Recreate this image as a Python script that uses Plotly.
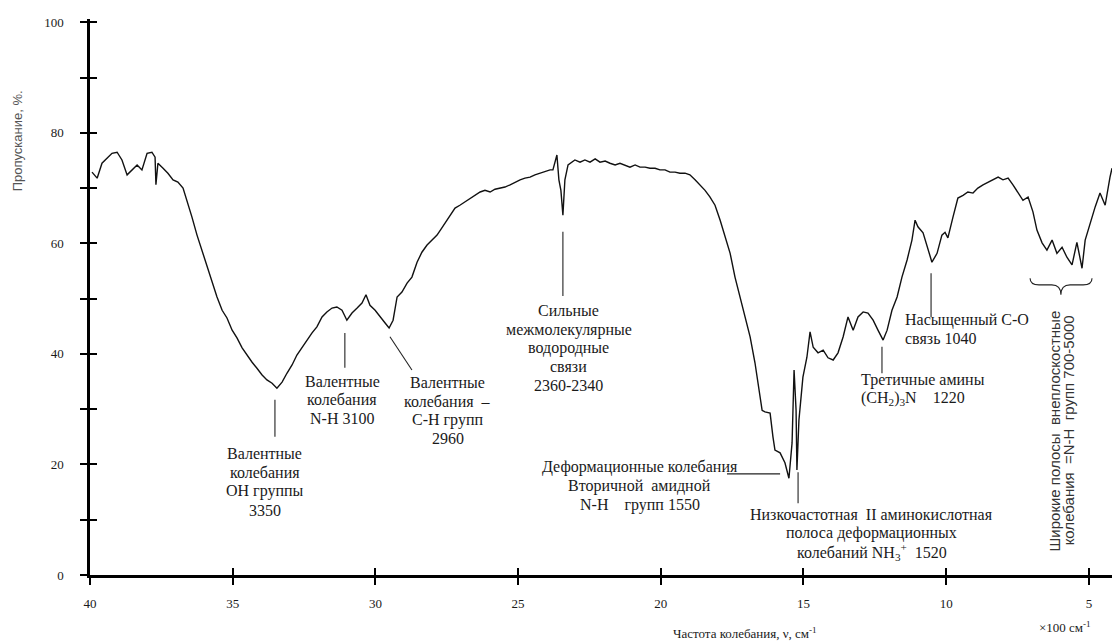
import plotly.graph_objects as go

# ---- spectrum data (wavenumber, cm^-1 ; transmittance, %) ----
wavenumber = [3993, 3975, 3958, 3940, 3923, 3905, 3888, 3870, 3853, 3835, 3818, 3800, 3783, 3772, 3769, 3762,
              3744, 3727, 3709, 3692, 3674, 3660, 3643, 3625, 3608, 3590, 3573, 3555, 3537, 3520, 3502, 3485,
              3467, 3450, 3432, 3415, 3397, 3380, 3362, 3345, 3327, 3310, 3292, 3275, 3257, 3240, 3222, 3205,
              3187, 3170, 3152, 3135, 3117, 3100, 3082, 3064, 3047, 3033, 3019, 3001, 2984, 2966, 2952, 2938,
              2924, 2907, 2889, 2872, 2854, 2837, 2819, 2802, 2784, 2767, 2749, 2732, 2721, 2704, 2686, 2668,
              2651, 2633, 2616, 2598, 2581, 2563, 2546, 2528, 2511, 2493, 2476, 2458, 2441, 2423, 2406, 2388,
              2378, 2364, 2357, 2350, 2343, 2336, 2325, 2311, 2301, 2283, 2266, 2248, 2230, 2213, 2195, 2178,
              2160, 2143, 2125, 2108, 2090, 2073, 2055, 2038, 2020, 2003, 1985, 1968, 1950, 1933, 1915, 1898,
              1880, 1863, 1845, 1828, 1810, 1792, 1775, 1757, 1740, 1722, 1705, 1687, 1670, 1656, 1645, 1635,
              1617, 1607, 1600, 1582, 1565, 1551, 1540, 1533, 1526, 1523, 1516, 1502, 1488, 1477, 1466, 1449,
              1431, 1414, 1396, 1379, 1361, 1344, 1326, 1309, 1291, 1274, 1256, 1239, 1221, 1207, 1190, 1172,
              1155, 1137, 1120, 1109, 1099, 1081, 1064, 1050, 1032, 1015, 1004, 994, 976, 959, 941, 924,
              906, 889, 871, 853, 836, 818, 801, 783, 766, 748, 731, 713, 696, 682, 664, 647,
              629, 612, 594, 577, 559, 542, 524, 513, 496, 478, 461, 443, 426, 419]
transmittance = [72.9, 71.8, 74.5, 75.4, 76.3, 76.5, 75.1, 72.4, 73.3, 74.2, 73.3, 76.3, 76.5, 75.6, 70.6, 74.5,
                 73.6, 72.7, 71.5, 71.1, 70.0, 67.8, 64.8, 61.5, 58.8, 55.7, 53.4, 50.3, 47.9, 46.5, 44.3, 42.9,
                 41.1, 39.8, 38.5, 37.4, 36.2, 35.3, 34.7, 33.8, 34.9, 36.5, 38.0, 39.8, 41.2, 42.5, 43.8, 44.9,
                 46.7, 47.6, 48.3, 48.5, 47.9, 46.1, 47.4, 48.3, 49.2, 50.7, 48.8, 47.9, 46.7, 45.6, 44.7, 46.1,
                 50.3, 51.2, 52.8, 53.9, 56.6, 58.4, 59.7, 60.6, 61.5, 62.8, 64.2, 65.5, 66.4, 66.9, 67.5, 68.2,
                 68.7, 69.3, 69.6, 69.3, 69.8, 70.0, 70.2, 70.6, 71.1, 71.5, 71.8, 72.0, 72.4, 72.7, 72.9, 73.3,
                 73.3, 76.0, 71.5, 69.6, 65.1, 71.5, 74.2, 74.7, 75.1, 74.7, 75.1, 74.7, 75.3, 74.7, 74.9, 74.5,
                 74.2, 74.5, 74.2, 73.8, 74.2, 73.8, 73.8, 73.6, 73.6, 73.3, 73.3, 72.9, 72.9, 72.7, 72.7, 72.4,
                 71.5, 70.6, 69.6, 68.4, 66.9, 64.2, 61.1, 58.2, 53.9, 50.3, 46.7, 43.1, 38.4, 34.0, 29.8, 29.5,
                 29.3, 25.0, 22.6, 22.1, 20.3, 17.5, 23.9, 37.1, 29.8, 19.0, 28.0, 35.8, 39.4, 44.0, 41.2, 40.2,
                 40.7, 39.3, 38.9, 40.2, 43.1, 46.7, 44.3, 46.7, 47.6, 47.4, 46.1, 44.3, 42.5, 44.3, 47.9, 50.3,
                 53.9, 57.0, 60.6, 64.2, 63.0, 61.9, 58.8, 56.6, 58.2, 61.5, 62.0, 61.0, 64.8, 68.2, 68.7, 69.3,
                 69.1, 70.0, 70.6, 71.1, 71.5, 72.0, 71.5, 71.8, 70.6, 69.1, 67.8, 68.4, 65.7, 62.4, 60.1, 58.8,
                 60.6, 58.2, 59.3, 57.5, 56.1, 60.2, 55.5, 60.6, 63.7, 66.6, 69.1, 66.9, 72.0, 73.6]

x_ticks = [40, 35, 30, 25, 20, 15, 10, 5]
y_ticks = [0, 20, 40, 60, 80, 100]
y_minor_step = 10

x_vals = [w / 100 for w in wavenumber]

SERIF = "Liberation Serif"
TXT = "#1a1a1a"

fig = go.Figure()
fig.add_trace(go.Scatter(x=x_vals, y=transmittance, mode="lines",
                         line=dict(color="#111111", width=1.4), showlegend=False, hoverinfo="skip"))
# helper trace for the overlaid axes (inside ticks -> crossing ticks)
fig.add_trace(go.Scatter(x=[None], y=[None], xaxis="x2", yaxis="y2", showlegend=False, hoverinfo="skip"))

XR = [40, 4.19]
YR = [0, 100.6]

fig.update_layout(
    width=1112, height=644, autosize=False,
    margin=dict(l=90, r=0, t=19, b=69),
    paper_bgcolor="white", plot_bgcolor="white",
    xaxis=dict(range=XR, tickvals=x_ticks, ticks="outside", ticklen=7, tickwidth=2, tickcolor="black",
               showline=True, linewidth=2.5, linecolor="black", showgrid=False, zeroline=False,
               tickfont=dict(family=SERIF, size=13, color=TXT), ticklabelstandoff=8),
    yaxis=dict(range=YR, tickvals=y_ticks, ticks="outside", ticklen=7, tickwidth=2,
               tickcolor="black", showline=True, linewidth=2.5, linecolor="black", showgrid=False,
               zeroline=False, tickfont=dict(family=SERIF, size=13, color=TXT), ticklabelstandoff=14,
               minor=dict(tick0=0, dtick=y_minor_step, ticks="outside", ticklen=7, tickwidth=2,
                          tickcolor="black", showgrid=False)),
    xaxis2=dict(range=XR, overlaying="x", tickvals=x_ticks, ticks="inside", ticklen=7, tickwidth=2,
                tickcolor="black", showticklabels=False, showline=False, showgrid=False, zeroline=False),
    yaxis2=dict(range=YR, overlaying="y", tick0=0, dtick=y_minor_step, ticks="inside", ticklen=7,
                tickwidth=2, tickcolor="black", showticklabels=False, showline=False, showgrid=False,
                zeroline=False),
)

# ---- band annotations: (x anchor, first-line centre y, lines, xanchor) ----
ann_font = dict(family=SERIF, size=16, color=TXT)
STEP = 3.38  # line spacing in % units
labels = [
    (33.87, 21.9, ["Валентные", "колебания", "ОН группы", "3350"], "center"),
    (31.17, 35.1, ["Валентные", "колебания", "N-H 3100"], "center"),
    (27.46, 34.8, ["Валентные", "колебания  –", "C-H групп", "2960"], "center"),
    (23.22, 47.8, ["Сильные", "межмолекулярные", "водородные", "связи", "2360-2340"], "center"),
    (20.73, 19.5, ["Деформационные колебания", "Вторичной  амидной", "N-H    групп 1550"], "center"),
    (12.60, 10.9, ["Низкочастотная  II аминокислотная", "полоса деформационных",
                   "колебаний NH<sub>3</sub><sup>+</sup>  1520"], "center"),
    (13.06, 35.3, ["Третичные амины", "(CH<sub>2</sub>)<sub>3</sub>N    1220"], "left"),
    (11.51, 46.2, ["Насыщенный C-O", "связь 1040"], "left"),
]
for x, y, lines, xanchor in labels:
    for i, t in enumerate(lines):
        fig.add_annotation(x=x, y=y - i * STEP, xref="x", yref="y", text=t, showarrow=False,
                           xanchor=xanchor, yanchor="middle", font=ann_font)

# pointer lines (x0, y0, x1, y1)
pointers = [
    (33.52, 31.7, 33.52, 25.0),
    (31.07, 43.8, 31.07, 37.5),
    (29.49, 43.1, 28.72, 37.1),
    (23.43, 62.1, 23.43, 50.5),
    (17.68, 18.3, 15.82, 18.3),
    (15.19, 18.6, 15.19, 13.0),
    (12.25, 41.3, 12.25, 36.5),
    (10.53, 54.6, 10.53, 46.7),
]
for x0, y0, x1, y1 in pointers:
    fig.add_shape(type="line", xref="x", yref="y", x0=x0, y0=y0, x1=x1, y1=y1,
                  line=dict(color="#222222", width=1.1))

# brace over the 700-500 band
fig.add_shape(type="path", xref="x", yref="y",
              path="M 7.06,53.7 Q 7.06,52.5 6.75,52.5 L 6.3,52.5 Q 5.98,52.5 5.98,50.7 "
                   "Q 5.98,52.5 5.66,52.5 L 5.2,52.5 Q 4.89,52.5 4.89,53.7",
              line=dict(color="#222222", width=1.1))
rot_font = dict(family="Liberation Sans", size=15, color="#333333")
fig.add_annotation(x=6.2, y=26.1, xref="x", yref="y", text="Широкие полосы  внеплоскостные",
                   textangle=-90, showarrow=False, xanchor="center", yanchor="middle", font=rot_font)
fig.add_annotation(x=5.71, y=26.1, xref="x", yref="y", text="колебания  =N-H  групп 700-5000",
                   textangle=-90, showarrow=False, xanchor="center", yanchor="middle", font=rot_font)

# axis titles
fig.add_annotation(x=-0.0714, y=0.78, xref="paper", yref="paper", text="Пропускание, %.",
                   textangle=-90, showarrow=False, xanchor="center", yanchor="middle",
                   font=dict(family="Liberation Sans", size=13, color="#555555"))
fig.add_annotation(x=0.641, y=-0.104, xref="paper", yref="paper",
                   text="Частота колебания, ν, см<sup>-1</sup>", showarrow=False,
                   xanchor="center", yanchor="middle", font=dict(family=SERIF, size=13, color=TXT))
fig.add_annotation(x=0.954, y=-0.0935, xref="paper", yref="paper",
                   text="×100 см<sup>-1</sup>", showarrow=False,
                   xanchor="center", yanchor="middle", font=dict(family=SERIF, size=13, color=TXT))

fig.write_html("out.html", post_script="document.body.style.margin='0';",
               config={"displayModeBar": False})
